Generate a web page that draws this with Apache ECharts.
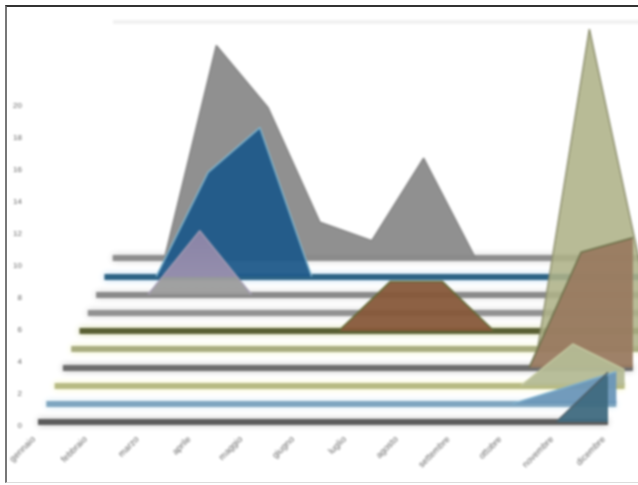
<!DOCTYPE html>
<html>
<head>
<meta charset="utf-8">
<title>area 3d</title>
<script src="https://cdn.jsdelivr.net/npm/echarts@6/dist/echarts.min.js"></script>
<style>
  html, body { margin: 0; padding: 0; background: #fff; overflow: hidden; }
  #wrap { position: absolute; left: 0; top: 0; width: 638px; height: 485px; overflow: hidden; }
  /* the back rows run past the picture's right edge, so the canvas is wider and cropped */
  #main { position: absolute; left: 0; top: 0; width: 700px; height: 485px; filter: blur(0.8px); }
  #frame { position: absolute; left: 5px; top: 5px; width: 640px; height: 478px; box-sizing: border-box;
           border-left: 2px solid #777; border-top: 2px solid #333; border-bottom: 1px solid #ddd; pointer-events: none; }
</style>
</head>
<body>
<div id="wrap">
  <div id="main"></div>
  <div id="frame"></div>
</div>
<script>
const months = ["gennaio", "febbraio", "marzo", "aprile", "maggio", "giugno", "luglio", "agosto", "settembre", "ottobre", "novembre", "dicembre"];

// front row first
const row0 = [0, 0, 0, 0, 0, 0, 0, 0, 0, 0, 0, 3.1];
const row1 = [0, 0, 0, 0, 0, 0, 0, 0, 0, 0, 1.0, 2.0];
const row2 = [0, 0, 0, 0, 0, 0, 0, 0, 0, 0, 2.6, 1.0];
const row3 = [0, 0, 0, 0, 0, 0, 0, 0, 0, 0, 7.2, 8.1];
const row4 = [0, 0, 0, 0, 0, 0, 0, 0, 0, 0, 20, 5];
const row5 = [0, 0, 0, 0, 0, 0, 3.1, 3.1, 0, 0, 0, 0];
const row6 = [0, 0, 0, 0, 0, 0, 0, 0, 0, 0, 0, 0];
const row7 = [0, 0, 4.0, 0, 0, 0, 0, 0, 0, 0, 0, 0];
const row8 = [0, 0, 6.5, 9.3, 0, 0, 0, 0, 0, 0, 0, 0];
const row9 = [0, 0, 13.3, 9.4, 2.25, 1.1, 6.25, 0, 0, 0, 0, 0];
const rows = [row0, row1, row2, row3, row4, row5, row6, row7, row8, row9];

const ribbonColors = ["#5c5c5c", "#7fa6c0", "#b8bb84", "#6e6e6e", "#a9ad80", "#5a6034", "#929292", "#8a8a8a", "#2e6486", "#8e8e8e"];
const haloColors = ["#bbbbbb", "#cfe6f2", "#f4f4c0", "#bbbbbb", "#eef0c0", "#d0d4a0", "#cccccc", "#cccccc", "#b4d4ee", "#cccccc"];
const lineColors = ["#4e5f68", "#7fb0cc", "#c4c8a0", "#6a6f48", "#8f9170", "#5f6a34", "#929292", "#a49cb4", "#80b4cc", "#858585"];
const fillColors = ["#3f6a80", "#6a96b8", "#b4ba95", "#997a60", "#aeb288", "#87593a", "#929292", "#8f86a8", "#1f5a8a", "#8a8a8a"];

const pxPerUnit = 16;
const rowWidth = 570;
const frontLeft = 38, frontBase = 422;
const stepX = 8.3, stepY = 18.2;

// flat stretches are already drawn by the ribbon, only peaks need an area
function peaksOnly(row) {
  return row.map((v, i) => (v === 0 && !row[i - 1] && !row[i + 1]) ? null : v);
}

const grid = [], xAxis = [], yAxis = [], series = [];

// back rows are drawn first so the front ones sit on top
for (let i = rows.length - 1; i >= 0; i--) {
  const base = frontBase - i * stepY;
  const max = Math.floor(base / pxPerUnit);
  const idx = grid.length;
  grid.push({ left: frontLeft + i * stepX, width: rowWidth, top: base - max * pxPerUnit, height: max * pxPerUnit });
  xAxis.push({
    gridIndex: idx, type: "category", data: months, boundaryGap: false, z: 0,
    axisTick: { show: false }, axisLabel: { show: false },
    axisLine: { lineStyle: { color: ribbonColors[i], width: 6, cap: "butt", shadowColor: haloColors[i], shadowBlur: 6 } }
  });
  yAxis.push({ gridIndex: idx, type: "value", min: 0, max: max, show: false, splitLine: { show: false } });
  let fill = fillColors[i];
  if (i === 7) {
    // the part of this peak in front of the blue row looks lilac
    fill = new echarts.graphic.LinearGradient(0, 0, 0, 1, [
      { offset: 0, color: "#8f86a8" }, { offset: 0.72, color: "#9a90ae" },
      { offset: 0.73, color: "#9c9c9c" }, { offset: 1, color: "#9c9c9c" }
    ]);
  }
  series.push({
    type: "line", xAxisIndex: idx, yAxisIndex: idx, data: peaksOnly(rows[i]), symbol: "none", silent: true, clip: true,
    lineStyle: { color: lineColors[i], width: 1.5 },
    areaStyle: { color: fill, opacity: i === 4 ? 0.88 : 0.95 }
  });
}

// axis labels only, on the front plane
const labelIdx = grid.length;
grid.push({ left: frontLeft - 4, width: rowWidth, top: 106, height: 320 });
xAxis.push({
  gridIndex: labelIdx, type: "category", data: months, boundaryGap: false, z: 5,
  axisLine: { show: false }, axisTick: { show: false },
  axisLabel: { interval: 0, rotate: 45, margin: 12, fontSize: 9, color: "#666", fontFamily: "Liberation Sans" }
});
yAxis.push({
  gridIndex: labelIdx, type: "value", min: 0, max: 20, interval: 2,
  axisLine: { show: false }, axisTick: { show: false }, splitLine: { show: false },
  axisLabel: { margin: 12, fontSize: 8, color: "#666", fontFamily: "Liberation Sans" }
});
series.push({ type: "line", xAxisIndex: labelIdx, yAxisIndex: labelIdx, data: [], silent: true });

const myChart = echarts.init(document.getElementById("main"), null, { width: 700, height: 485 });
myChart.setOption({
  animation: false,
  backgroundColor: "#fff",
  grid, xAxis, yAxis, series,
  graphic: [{
    type: "line", z: -1, silent: true,
    shape: { x1: 113, y1: 22, x2: 700, y2: 22 },
    style: { stroke: "#f1f1f1", lineWidth: 4 }
  }]
});
</script>
</body>
</html>
